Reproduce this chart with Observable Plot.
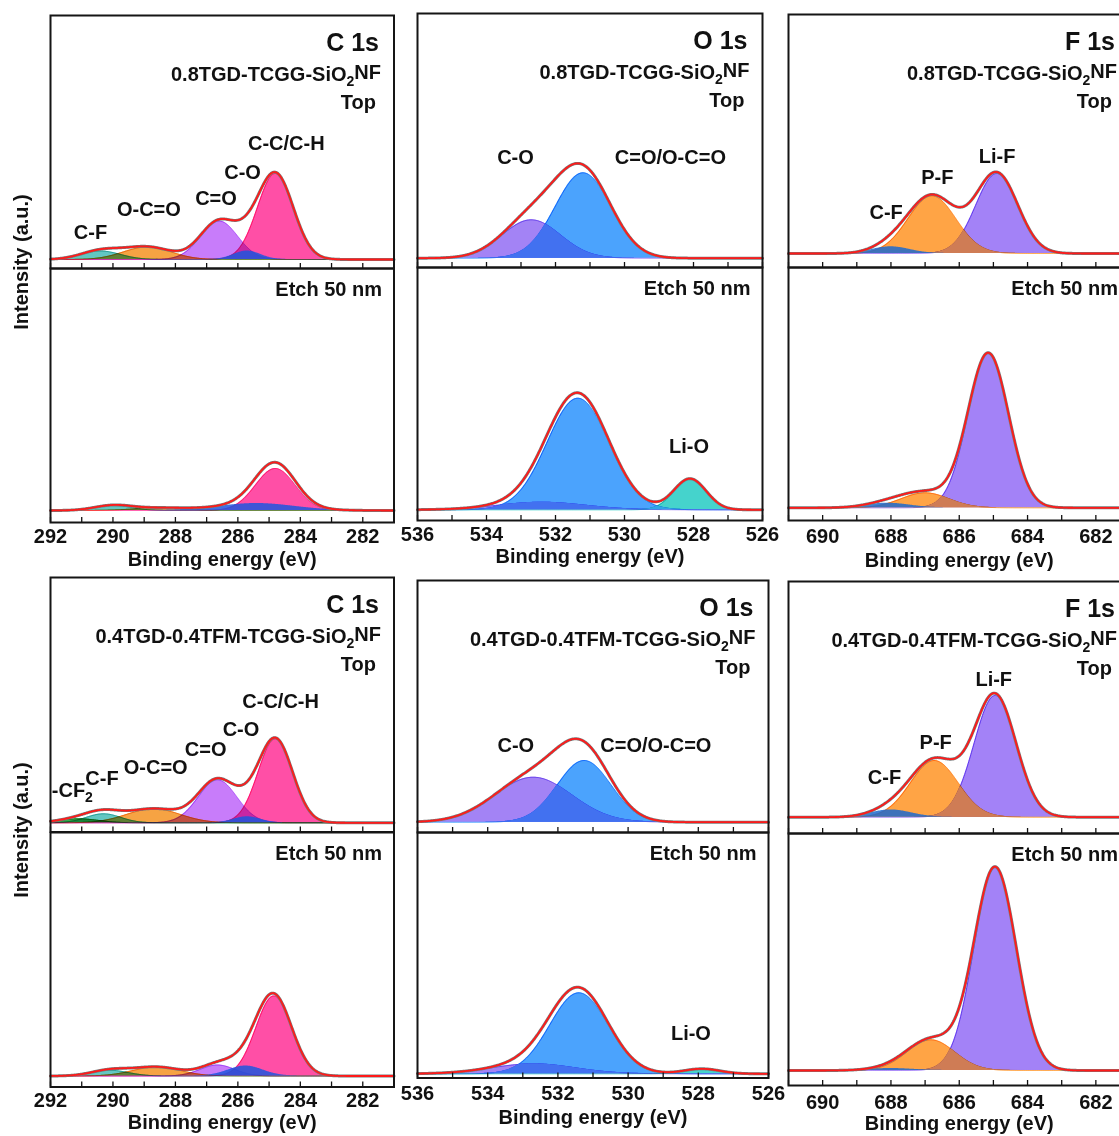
<!DOCTYPE html>
<html><head><meta charset="utf-8">
<script src="https://cdn.jsdelivr.net/npm/d3@7"></script>
<script src="https://cdn.jsdelivr.net/npm/@observablehq/plot@0.6"></script>
<style>
html,body{margin:0;padding:0;background:#fff;overflow:hidden}
#root{position:relative;width:1119px;height:1136px;overflow:hidden;font-family:"Liberation Sans",Arial,sans-serif;font-weight:bold;color:#111}
.ylab{position:absolute;left:21px;transform:translate(-50%,-50%) rotate(-90deg);white-space:nowrap;font-size:20px;font-weight:bold}
</style></head><body><div id="root"></div>
<script>
// ---------- DATA ----------
// tick labels (eV)
const cTicks = [292, 290, 288, 286, 284, 282];
const oTicks = [536, 534, 532, 530, 528, 526];
const fTicks = [690, 688, 686, 684, 682];

// fitted components: [label, centre (eV), FWHM (eV), height (a.u.)]
const c1sTop08  = [["C-F",290.4,1.5,8.5],["O-C=O",288.9,1.8,12.5],["C=O",286.6,1.4,38.5],["C-C/C-H",284.8,1.35,86],["C-O",285.7,1.0,8.5]];
const c1sEtch08 = [["C-F",290.0,1.4,5],["O-C=O",288.5,2.0,2.5],["C-C/C-H",284.8,1.5,42],["C-O",285.4,2.8,7]];
const o1sTop08  = [["C-O",532.7,2.0,38.4],["C=O/O-C=O",531.2,1.9,85.4]];
const o1sEtch08 = [["C-O",532.4,3.0,7.6],["C=O/O-C=O",531.35,2.1,111.6],["Li-O",528.1,1.1,31]];
const f1sTop08  = [["P-F",686.8,1.65,57.7],["Li-F",684.9,1.45,80],["C-F",688.0,1.3,6.7]];
const f1sEtch08 = [["P-F",687.0,1.65,15],["Li-F",685.15,1.4,154.6],["C-F",688.1,1.5,4.6]];
const c1sTop04  = [["-CF₂",291.1,1.5,4],["C-F",290.3,1.3,9],["O-C=O",288.7,2.0,14],["C=O",286.65,1.45,43],["C-C/C-H",284.8,1.3,84],["C-O",285.7,1.0,6]];
const c1sEtch04 = [["C-F",290.1,1.4,5.7],["O-C=O",288.6,1.8,9],["C=O",286.65,1.3,11],["C-C/C-H",284.85,1.35,80],["C-O",285.75,1.3,10]];
const o1sTop04  = [["C-O",532.7,2.6,45],["C=O/O-C=O",531.25,1.8,61.7]];
const o1sEtch04 = [["C-O",532.7,2.8,10],["C=O/O-C=O",531.4,1.95,81],["Li-O",527.9,1.2,5]];
const f1sTop04  = [["P-F",686.73,1.65,56.7],["Li-F",684.95,1.45,121.7],["C-F",688.0,1.4,7.3]];
const f1sEtch04 = [["P-F",686.83,1.65,30.7],["Li-F",684.95,1.46,203],["C-F",688.0,1.5,2]];

// peak annotations: [text, eV, intensity]
const c1sTop08Labels = [["C-F",290.72,27],["O-C=O",288.85,50],["C=O",286.7,61],["C-O",285.85,87],["C-C/C-H",284.45,116]];
const o1sTop08Labels = [["C-O",533.16,101],["C=O/O-C=O",528.67,101]];
const o1sEtch08Labels = [["Li-O",528.13,63]];
const f1sTop08Labels = [["C-F",688.14,41],["P-F",686.64,76],["Li-F",684.89,97]];
const c1sTop04Labels = [["-CF₂",291.3,32],["C-F",290.35,44],["O-C=O",288.63,55],["C=O",287.03,73],["C-O",285.9,93],["C-C/C-H",284.63,121]];
const o1sTop04Labels = [["C-O",533.2,77],["C=O/O-C=O",529.21,77]];
const o1sEtch04Labels = [["Li-O",528.21,40]];
const f1sTop04Labels = [["C-F",688.19,40],["P-F",686.69,75],["Li-F",684.99,138]];

const sampleNames = ["0.8TGD-TCGG-SiO₂NF", "0.4TGD-0.4TFM-TCGG-SiO₂NF"];
const coreLevels = {C: "C 1s", O: "O 1s", F: "F 1s"};
const depthLabels = ["Top", "Etch 50 nm"];

// ---------- STYLE ----------
const colors = {
  C: {"-CF₂":"#17992a","C-F":"#46bdb7","O-C=O":"#f49322","C=O":"#be65f9","C-C/C-H":"#ff3096","C-O":"#1d56de"},
  O: {"C-O":"#936df3","C=O/O-C=O":"#2b93fd","Li-O":"#25cbc3"},
  F: {"C-F":"#1c6acf","P-F":"#ff9424","Li-F":"#936cf6"}
};
// overlap tint of two components: [a, b, colour]
const overlapStyle = {
  C: [],
  O: [["C-O","C=O/O-C=O","#4271f0"],["C=O/O-C=O","Li-O","#2fa6e6"]],
  F: [["P-F","Li-F","#cf7c55"]]
};
const overlay = {C: "C-O", O: null, F: "C-F"}; // drawn on top with normal blending
const xDomains = {C: [292, 281], O: [536, 526], F: [691, 681]};
const ticksOf = {C: cTicks, O: oTicks, F: fTicks};

const layout = [
  {el:"C", row:0, L:50,    R:393.5, T:15,  S:268,   B:522,    bTop:259,   bBot:510,    top:c1sTop08, bot:c1sEtch08, lt:c1sTop08Labels, lb:[], tdy:14, ady:37},
  {el:"O", row:0, L:417,   R:762,   T:13,  S:267,   B:520,    bTop:257.7, bBot:509.3,  top:o1sTop08, bot:o1sEtch08, lt:o1sTop08Labels, lb:o1sEtch08Labels, tdy:14, ady:36},
  {el:"F", row:0, L:787.5, R:1129,  T:14,  S:267,   B:520,    bTop:253,   bBot:507.3,  top:f1sTop08, bot:f1sEtch08, lt:f1sTop08Labels, lb:[], tdy:16, ady:40},
  {el:"C", row:1, L:50,    R:393.5, T:577, S:831.5, B:1086,   bTop:822.3, bBot:1075,   top:c1sTop04, bot:c1sEtch04, lt:c1sTop04Labels, lb:[], tdy:14, ady:36},
  {el:"O", row:1, L:417,   R:768,   T:580, S:832,   B:1077.5, bTop:821.7, bBot:1073.3, top:o1sTop04, bot:o1sEtch04, lt:o1sTop04Labels, lb:o1sEtch04Labels, tdy:16, ady:40},
  {el:"F", row:1, L:787.5, R:1129,  T:581, S:833,   B:1085,   bTop:816.7, bBot:1070,   top:f1sTop04, bot:f1sEtch04, lt:f1sTop04Labels, lb:[], tdy:17, ady:38},
];

const root = document.getElementById("root");
const FONT = '"Liberation Sans", Arial, sans-serif';

function gauss(x, c, fwhm, h) {
  const s = fwhm / 2.35482;
  return h * Math.exp(-((x - c) ** 2) / (2 * s * s));
}

function subscriptify(svg) {
  svg.querySelectorAll("text").forEach(t => {
    const targets = t.querySelectorAll("tspan").length ? [...t.querySelectorAll("tspan")] : [t];
    targets.forEach(node => {
      const s = node.textContent;
      if (!s.includes("₂")) return;
      const [a, b] = s.split("₂");
      node.textContent = "";
      const ns = "http://www.w3.org/2000/svg";
      const t1 = document.createElementNS(ns, "tspan"); t1.textContent = a;
      const t2 = document.createElementNS(ns, "tspan"); t2.textContent = "2";
      t2.setAttribute("font-size", "0.7em"); t2.setAttribute("dy", "0.35em");
      const t3 = document.createElementNS(ns, "tspan"); t3.textContent = b;
      t3.setAttribute("dy", "-0.35em");
      node.append(t1, t2, t3);
    });
  });
}

function drawSub(o) {
  const ml = 3, mr = 3, mt = 3, mb = o.ticks ? 62 : 3;
  const W = o.R - o.L, H = o.B - o.T;
  const [hiE, loE] = o.xdom;
  const grid = d3.range(loE, hiE + 1e-9, 0.02);
  const comps = o.peaks.map(([name, c, fw, h]) => ({name, pts: grid.map(e => ({e, v: gauss(e, c, fw, h)}))}));
  const byName = Object.fromEntries(comps.map(p => [p.name, p]));
  const env = grid.map((e, i) => ({e, v: d3.sum(comps, p => p.pts[i].v)}));
  const minor = d3.range(Math.ceil(loE), Math.floor(hiE) + 1);
  const marks = [];
  comps.filter(p => p.name !== o.overlay).forEach(p => {
    const col = o.colors[p.name];
    marks.push(Plot.areaY(p.pts, {x: "e", y1: 0, y2: "v", fill: col, fillOpacity: 0.85, mixBlendMode: "multiply"}));
    marks.push(Plot.lineY(p.pts, {x: "e", y: "v", stroke: col, strokeWidth: 1, mixBlendMode: "multiply"}));
  });
  o.overlaps.forEach(([a, b, col]) => {
    if (!byName[a] || !byName[b]) return;
    const pts = grid.map((e, i) => ({e, v: Math.min(byName[a].pts[i].v, byName[b].pts[i].v)}));
    marks.push(Plot.areaY(pts, {x: "e", y1: 0, y2: "v", fill: col}));
  });
  comps.filter(p => p.name === o.overlay).forEach(p => {
    const col = o.colors[p.name];
    marks.push(Plot.areaY(p.pts, {x: "e", y1: 0, y2: "v", fill: col, fillOpacity: 0.85}));
  });
  marks.push(Plot.lineY(env, {x: "e", y: "v", stroke: "#7a7a7a", strokeWidth: 3}));
  marks.push(Plot.lineY(env, {x: "e", y: "v", stroke: "#ff1a1a", strokeWidth: 1.8}));
  marks.push(Plot.ruleX(minor, {x: d => d, insetTop: H - 5, stroke: "#111", strokeWidth: 1.3}));
  marks.push(Plot.frame({stroke: "#151515", strokeWidth: 2}));
  marks.push(Plot.text(o.labels, {x: d => d[1], y: d => d[2], text: d => d[0], fontSize: 20, fontWeight: "bold", fill: "#111"}));
  o.headers.forEach(hd => marks.push(Plot.text([hd.text], {text: d => d, frameAnchor: "top-right", textAnchor: "end", lineAnchor: "middle", dx: hd.dx, dy: hd.dy, fontSize: hd.size, fontWeight: "bold", fill: "#111"})));
  if (o.ticks) {
    marks.push(Plot.text(o.ticks, {x: d => d, text: d => String(d), frameAnchor: "bottom", lineAnchor: "middle", dy: o.tdy, fontSize: 20, fontWeight: "bold", fill: "#111"}));
    marks.push(Plot.text(["Binding energy (eV)"], {text: d => d, frameAnchor: "bottom", lineAnchor: "middle", dy: o.ady, fontSize: 20, fontWeight: "bold", fill: "#111"}));
  }
  const svg = Plot.plot({
    width: W + ml + mr, height: H + mt + mb,
    marginLeft: ml, marginRight: mr, marginTop: mt, marginBottom: mb,
    x: {domain: o.xdom, axis: null},
    y: {domain: o.ydom, axis: null},
    style: {fontFamily: FONT, fontWeight: "bold", background: "transparent", overflow: "visible", color: "#111"},
    marks
  });
  svg.style.position = "absolute";
  svg.style.left = (o.L - ml) + "px";
  svg.style.top = (o.T - mt) + "px";
  svg.style.maxWidth = "none";
  subscriptify(svg);
  root.appendChild(svg);
}

layout.forEach(p => {
  const xdom = xDomains[p.el];
  drawSub({
    L: p.L, R: p.R, T: p.T, B: p.S, xdom,
    ydom: [-(p.S - p.bTop), p.bTop - p.T],
    peaks: p.top, colors: colors[p.el], overlay: overlay[p.el], overlaps: overlapStyle[p.el], labels: p.lt,
    headers: [
      {text: coreLevels[p.el], dx: -15, dy: 27, size: 25},
      {text: sampleNames[p.row], dx: -13, dy: 59, size: 20},
      {text: depthLabels[0], dx: -18, dy: 87, size: 20}
    ]
  });
  drawSub({
    L: p.L, R: p.R, T: p.S, B: p.B, xdom,
    ydom: [-(p.B - p.bBot), p.bBot - p.S],
    peaks: p.bot, colors: colors[p.el], overlay: overlay[p.el], overlaps: overlapStyle[p.el], labels: p.lb,
    headers: [{text: depthLabels[1], dx: -12, dy: 21, size: 20}],
    ticks: ticksOf[p.el], tdy: p.tdy, ady: p.ady
  });
});

[262, 830].forEach(y => {
  const d = document.createElement("div");
  d.className = "ylab";
  d.style.top = y + "px";
  d.textContent = "Intensity (a.u.)";
  root.appendChild(d);
});
</script></body></html>
